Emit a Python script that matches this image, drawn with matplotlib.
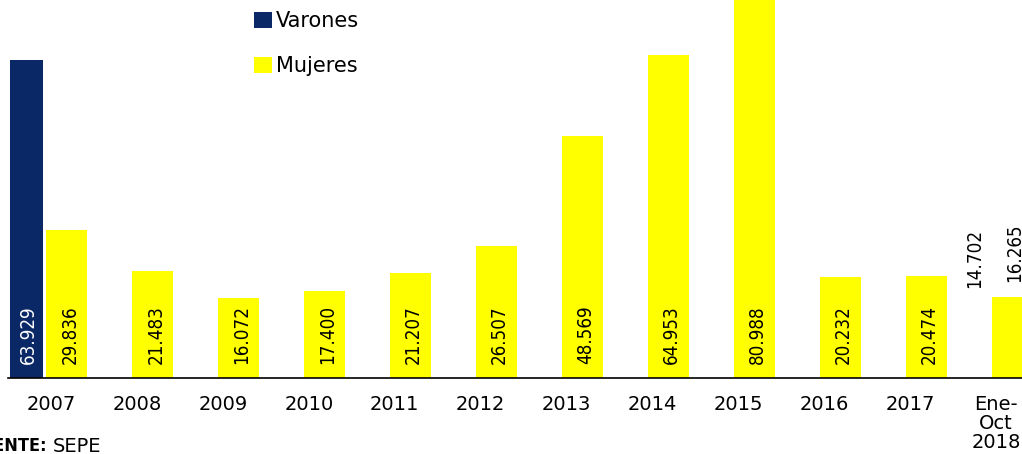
import numpy as np
import matplotlib
matplotlib.use("Agg")
import matplotlib.pyplot as plt
from matplotlib.patches import Patch

categories = ["2007", "2008", "2009", "2010", "2011", "2012", "2013",
              "2014", "2015", "2016", "2017", "Ene-\nOct\n2018"]
varones = [63929, None, None, None, None, None, None, None, None, None, None, 14702]
mujeres = [29836, 21483, 16072, 17400, 21207, 26507, 48569, 64953, 80988,
           20232, 20474, 16265]
value_labels_m = ["29.836", "21.483", "16.072", "17.400", "21.207", "26.507",
                  "48.569", "64.953", "80.988", "20.232", "20.474", "16.265"]
value_labels_v = ["63.929", None, None, None, None, None, None, None, None,
                  None, None, "14.702"]

NAVY = "#0a2766"
YELLOW = "#ffff00"
W, H = 1022, 454
fig = plt.figure(figsize=(W / 100, H / 100), dpi=100)
ax = fig.add_axes([8 / W, 76 / H, 1 - 8 / W, 378 / H])

x = np.arange(len(categories))
off_v, w_v = -0.284, 0.383
off_m, w_m = 0.185, 0.475
LABEL_FONT = dict(family="DejaVu Sans", stretch="condensed", fontsize=13.5)

for i in range(len(categories)):
    v = varones[i]
    last = (i == len(categories) - 1)
    if v is not None:
        ax.bar(x[i] + off_v, v, width=w_v, color=NAVY,
               alpha=0.0 if last else 1.0, zorder=2)
        if last:
            ax.annotate(value_labels_v[i], (x[i] + off_v, v), xytext=(3, 17),
                        textcoords="offset pixels", rotation=90, ha="center",
                        va="bottom", color="black", **LABEL_FONT)
        else:
            ax.annotate(value_labels_v[i], (x[i] + off_v, 0), xytext=(2, 14),
                        textcoords="offset pixels", rotation=90, ha="center",
                        va="bottom", color="white", **LABEL_FONT)
    m = mujeres[i]
    ax.bar(x[i] + off_m, m, width=w_m, color=YELLOW, zorder=2)
    if last:
        ax.annotate(value_labels_m[i], (x[i] + off_m, m), xytext=(3, 15),
                    textcoords="offset pixels", rotation=90, ha="center",
                    va="bottom", color="black", **LABEL_FONT)
    else:
        ax.annotate(value_labels_m[i], (x[i] + off_m, 0), xytext=(3, 14),
                    textcoords="offset pixels", rotation=90, ha="center",
                    va="bottom", color="black", **LABEL_FONT)

ax.set_xlim(-0.5, 11.30)
ax.set_ylim(0, 75990)
for s in ["top", "right", "left"]:
    ax.spines[s].set_visible(False)
ax.spines["bottom"].set_color("black")
ax.spines["bottom"].set_linewidth(1.2)
ax.spines["bottom"].set_zorder(3)
ax.set_yticks([])
ax.set_xticks(x)
ax.set_xticklabels(categories, fontsize=14, family="DejaVu Sans",
                   linespacing=1.0)
ax.tick_params(axis="x", length=0, pad=12)

handles = [Patch(facecolor=NAVY, label="Varones"),
           Patch(facecolor=YELLOW, label="Mujeres")]
fig.legend(handles=handles, loc="upper left", bbox_to_anchor=(246 / W, 1 - 3 / H),
           frameon=False, fontsize=15, handlelength=0.85, handleheight=0.85,
           handletextpad=0.2, labelspacing=1.2, borderaxespad=0)

fig.text(47 / W, 1 - 446 / H, "FUENTE:", fontsize=13, fontweight="bold",
         stretch="condensed", ha="right", va="center")
fig.text(53 / W, 1 - 446 / H, "SEPE", fontsize=14, ha="left", va="center")

fig.savefig("out.png", dpi=100)
